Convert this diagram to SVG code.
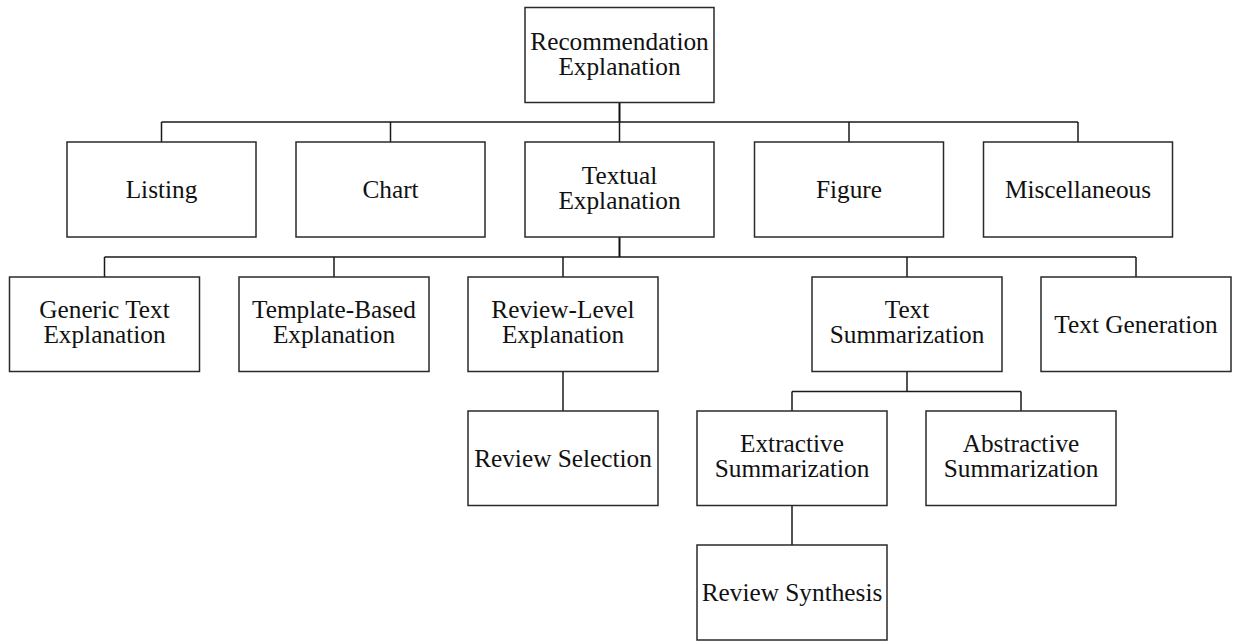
<svg xmlns="http://www.w3.org/2000/svg" width="1233" height="642" viewBox="0 0 1233 642">
  <style>
    .box { fill: #ffffff; stroke: #2a2a2a; stroke-width: 1.5; }
    .lbl { font-family: "Liberation Serif", "Times New Roman", serif; font-size: 25.3px; fill: #111111; text-anchor: middle; }
    .wire { fill: none; stroke: #1a1a1a; stroke-width: 1.5; }
    .stem { fill: none; stroke: #111111; stroke-width: 2; }
  </style>
  <rect width="1233" height="642" fill="#ffffff"/>

  <!-- tree connectors -->
  <g id="connectors">
    <!-- root to first level -->
    <path class="stem" d="M619.5 102.5 V122"/>
    <path class="wire" d="M161.5 122 H1078 M161.5 122 V142 M390.5 122 V142 M619.5 122 V142 M849 122 V142 M1078 122 V142"/>
    <!-- textual explanation to second level -->
    <path class="stem" d="M619.5 237 V257"/>
    <path class="wire" d="M104.5 257 H1136 M104.5 257 V277 M334 257 V277 M563 257 V277 M907 257 V277 M1136 257 V277"/>
    <!-- review-level explanation to review selection -->
    <path class="wire" d="M563 371.5 V411"/>
    <!-- text summarization to its kinds -->
    <path class="wire" d="M907 371.5 V391.5 M792 391.5 H1021 M792 391.5 V411 M1021 391.5 V411"/>
    <!-- extractive summarization to review synthesis -->
    <path class="wire" d="M792 505.5 V545"/>
  </g>

  <g id="recommendation-explanation">
    <rect class="box" x="525" y="7.5" width="189" height="95"/>
    <text class="lbl" x="619.5" y="49.5">Recommendation</text>
    <text class="lbl" x="619.5" y="74.8">Explanation</text>
  </g>

  <g id="listing">
    <rect class="box" x="67" y="142" width="189" height="95"/>
    <text class="lbl" x="161.5" y="198.3">Listing</text>
  </g>
  <g id="chart">
    <rect class="box" x="296" y="142" width="189" height="95"/>
    <text class="lbl" x="390.5" y="198.3">Chart</text>
  </g>
  <g id="textual-explanation">
    <rect class="box" x="525" y="142" width="189" height="95"/>
    <text class="lbl" x="619.5" y="184">Textual</text>
    <text class="lbl" x="619.5" y="209.3">Explanation</text>
  </g>
  <g id="figure">
    <rect class="box" x="754.5" y="142" width="189" height="95"/>
    <text class="lbl" x="849" y="198.3">Figure</text>
  </g>
  <g id="miscellaneous">
    <rect class="box" x="983.5" y="142" width="189" height="95"/>
    <text class="lbl" x="1078" y="198.3">Miscellaneous</text>
  </g>

  <g id="generic-text-explanation">
    <rect class="box" x="9.5" y="277" width="190" height="94.5"/>
    <text class="lbl" x="104.5" y="318">Generic Text</text>
    <text class="lbl" x="104.5" y="343.3">Explanation</text>
  </g>
  <g id="template-based-explanation">
    <rect class="box" x="239" y="277" width="190" height="94.5"/>
    <text class="lbl" x="334" y="318">Template-Based</text>
    <text class="lbl" x="334" y="343.3">Explanation</text>
  </g>
  <g id="review-level-explanation">
    <rect class="box" x="468" y="277" width="190" height="94.5"/>
    <text class="lbl" x="563" y="318">Review-Level</text>
    <text class="lbl" x="563" y="343.3">Explanation</text>
  </g>
  <g id="text-summarization">
    <rect class="box" x="812" y="277" width="190" height="94.5"/>
    <text class="lbl" x="907" y="318">Text</text>
    <text class="lbl" x="907" y="343.3">Summarization</text>
  </g>
  <g id="text-generation">
    <rect class="box" x="1041" y="277" width="190" height="94.5"/>
    <text class="lbl" x="1136" y="333">Text Generation</text>
  </g>

  <g id="review-selection">
    <rect class="box" x="468" y="411" width="190" height="94.5"/>
    <text class="lbl" x="563" y="467">Review Selection</text>
  </g>
  <g id="extractive-summarization">
    <rect class="box" x="697" y="411" width="190" height="94.5"/>
    <text class="lbl" x="792" y="452">Extractive</text>
    <text class="lbl" x="792" y="477.3">Summarization</text>
  </g>
  <g id="abstractive-summarization">
    <rect class="box" x="926" y="411" width="190" height="94.5"/>
    <text class="lbl" x="1021" y="452">Abstractive</text>
    <text class="lbl" x="1021" y="477.3">Summarization</text>
  </g>

  <g id="review-synthesis">
    <rect class="box" x="697" y="545" width="190" height="95"/>
    <text class="lbl" x="792" y="601">Review Synthesis</text>
  </g>
</svg>
